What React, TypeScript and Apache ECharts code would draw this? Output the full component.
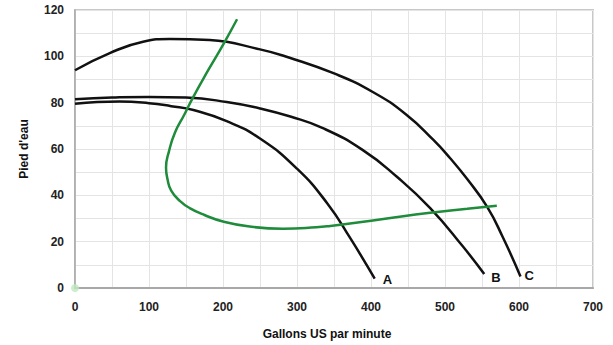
import React, { useEffect, useRef } from "react";
import * as echarts from "echarts";

const curveA: [number, number][] = [
  [0, 79.5], [30, 80.3], [60, 80.5], [100, 79.8], [130, 78.5], [160, 76.8],
  [205, 72], [250, 64.5], [300, 51.5], [341, 36.5], [372, 21.5], [405, 4],
];
const curveB: [number, number][] = [
  [0, 81.5], [50, 82.2], [100, 82.5], [150, 82.2], [205, 80.3], [250, 77.5],
  [291, 74], [335, 69], [389, 59.5], [435, 48], [480, 34.5], [524, 18], [553, 6],
];
const curveC: [number, number][] = [
  [0, 94], [47, 101.4], [92, 106.3], [128, 107.5], [182, 107], [250, 103],
  [289, 99.5], [351, 92.5], [403, 84.5], [447, 75], [484, 64], [507, 56],
  [530, 47], [557, 35], [578, 22], [602, 5],
];
const systemCurve: [number, number][] = [
  [219, 116], [201, 105.5], [180, 94], [159, 82], [148, 75], [135, 67],
  [127, 59], [123, 52], [125, 47], [130, 42], [142, 37.5], [155, 34.5],
  [175, 31.5], [200, 28.7], [236, 26.5], [281, 25.6], [326, 26.2],
  [345, 26.8], [412, 29.6], [480, 32.5], [530, 34.2], [570, 35.5],
];
const originPoint: [number, number][] = [[0, 0]];

const xTitle = "Gallons US par minute";
const yTitle = "Pied d'eau";

export default function App() {
  const ref = useRef<HTMLDivElement>(null);
  useEffect(() => {
    if (!ref.current) return;
    const chart = echarts.init(ref.current, undefined, { renderer: "svg" });
    const font = "'Liberation Sans', Arial, sans-serif";
    const blackLine = (
      name: string,
      data: [number, number][],
      offset: [number, number]
    ) => ({
      type: "line",
      name,
      data,
      smooth: 0.5,
      smoothMonotone: "none",
      showSymbol: false,
      symbol: "none",
      lineStyle: { color: "#111", width: 2.5 },
      endLabel: {
        show: true,
        formatter: "{a}",
        color: "#111",
        fontWeight: "bold",
        fontSize: 13,
        fontFamily: font,
        distance: 4,
        offset,
      },
      z: 3,
    });
    chart.setOption({
      animation: false,
      backgroundColor: "#fff",
      grid: {
        left: 75,
        right: 20,
        top: 10,
        bottom: 52,
        show: true,
        borderColor: "#c8c8c8",
        borderWidth: 2,
      },
      xAxis: {
        type: "value",
        min: 0,
        max: 700,
        interval: 100,
        name: xTitle,
        nameLocation: "middle",
        nameGap: 40,
        nameTextStyle: {
          fontWeight: "bold",
          fontSize: 12,
          color: "#111",
          fontFamily: font,
          padding: [0, 14, 0, 0],
        },
        axisLine: { show: true, lineStyle: { color: "#a8a8a8", width: 2 } },
        axisTick: { show: false },
        axisLabel: {
          margin: 13,
          fontWeight: "bold",
          fontSize: 12,
          color: "#222",
          fontFamily: font,
        },
        splitLine: { show: true, lineStyle: { color: "#e4e4e4", width: 1 } },
        minorTick: { show: false, splitNumber: 2 },
        minorSplitLine: { show: true, lineStyle: { color: "#e4e4e4", width: 1 } },
      },
      yAxis: {
        type: "value",
        min: 0,
        max: 120,
        interval: 20,
        name: yTitle,
        nameLocation: "middle",
        nameRotate: 90,
        nameGap: 45,
        nameTextStyle: {
          fontWeight: "bold",
          fontSize: 12,
          color: "#111",
          fontFamily: font,
        },
        axisLine: { show: true, lineStyle: { color: "#a8a8a8", width: 1.5 } },
        axisTick: { show: false },
        axisLabel: {
          margin: 11,
          fontWeight: "bold",
          fontSize: 12,
          color: "#222",
          fontFamily: font,
        },
        splitLine: { show: true, lineStyle: { color: "#e4e4e4", width: 1 } },
        minorTick: { show: false, splitNumber: 2 },
        minorSplitLine: { show: true, lineStyle: { color: "#e4e4e4", width: 1 } },
      },
      series: [
        blackLine("A", curveA, [4, 1]),
        blackLine("B", curveB, [3, 3]),
        blackLine("C", curveC, [0, -1]),
        {
          type: "line",
          name: "Système",
          data: systemCurve,
          smooth: 0.5,
          smoothMonotone: "none",
          showSymbol: false,
          symbol: "none",
          lineStyle: { color: "#1f8c3b", width: 2.5 },
          z: 4,
        },
        {
          type: "scatter",
          name: "origine",
          data: originPoint,
          symbolSize: 8,
          itemStyle: { color: "#bfe8bf" },
          z: 5,
        },
      ],
    });
    return () => chart.dispose();
  }, []);
  return (
    <div
      ref={ref}
      style={{ position: "absolute", left: 0, top: 0, width: 613, height: 345 }}
    />
  );
}
